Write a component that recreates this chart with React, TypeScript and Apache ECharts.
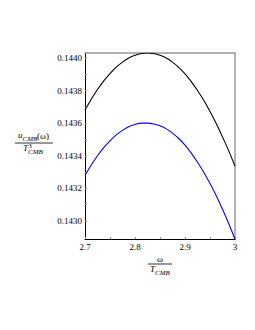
import React, { useEffect, useRef } from "react";
import * as echarts from "echarts";

const omega = [
  2.7, 2.7125, 2.725, 2.7375, 2.75, 2.7625, 2.775, 2.7875, 2.8, 2.8125, 2.825, 2.8375, 2.85,
  2.8625, 2.875, 2.8875, 2.9, 2.9125, 2.925, 2.9375, 2.95, 2.9625, 2.975, 2.9875, 3.0,
];
const blackValues = [
  0.14368, 0.143747, 0.143806, 0.143859, 0.143904, 0.143943, 0.143974, 0.143999, 0.144016,
  0.144027, 0.14403, 0.144027, 0.144016, 0.143999, 0.143974, 0.143942, 0.143902, 0.143855,
  0.1438, 0.14374, 0.143672, 0.143598, 0.143516, 0.14343, 0.143337,
];
const blueValues = [
  0.14328, 0.143344, 0.1434, 0.14345, 0.143492, 0.143528, 0.143556, 0.143578, 0.143592,
  0.1436, 0.1436, 0.143595, 0.143584, 0.143565, 0.143539, 0.143506, 0.143465, 0.143416,
  0.14336, 0.143299, 0.14323, 0.143155, 0.143072, 0.142984, 0.14289,
];
const xTickLabels = [2.7, 2.8, 2.9, 3.0];
const xTicks = [2.7, 2.75, 2.8, 2.85, 2.9, 2.95, 3.0];
const yTickLabels = [0.143, 0.1432, 0.1434, 0.1436, 0.1438, 0.144];
const yTicks = [0.143, 0.1431, 0.1432, 0.1433, 0.1434, 0.1435, 0.1436, 0.1437, 0.1438, 0.1439, 0.144];

const SERIF = "Liberation Serif";

export default function App() {
  const ref = useRef<HTMLDivElement>(null);
  useEffect(() => {
    if (!ref.current) return;
    const chart = echarts.init(ref.current, null, { renderer: "svg" });
    const txt = (text: string, x: number, y: number, size: number, italic: boolean, align = "left") => ({
      type: "text",
      x,
      y,
      style: {
        text,
        fill: "#000",
        fontFamily: SERIF,
        fontSize: size,
        fontStyle: italic ? "italic" : "normal",
        textAlign: align,
        textVerticalAlign: "middle",
      },
    });
    chart.setOption({
      animation: false,
      backgroundColor: "#fff",
      grid: { left: 85, top: 53, width: 150, height: 186, containLabel: false, outerBoundsMode: "none" },
      xAxis: [
        {
          type: "value",
          min: 2.7,
          max: 3.0,
          axisLine: { show: true, lineStyle: { color: "#000", width: 1 } },
          axisTick: { show: true, inside: true, length: 2, customValues: xTicks, lineStyle: { color: "#999" } },
          axisLabel: {
            customValues: xTickLabels,
            formatter: (v: number) => String(Math.round(v * 10) / 10),
            fontFamily: SERIF,
            fontSize: 9,
            color: "#000",
            margin: 3,
          },
          splitLine: { show: false },
        },
        {
          type: "value",
          position: "top",
          min: 2.7,
          max: 3.0,
          axisLine: { show: true, lineStyle: { color: "#999", width: 1.5 } },
          axisTick: { show: false },
          axisLabel: { show: false },
          splitLine: { show: false },
        },
      ],
      yAxis: [
        {
          type: "value",
          min: 0.14289,
          max: 0.14403,
          axisLine: { show: true, lineStyle: { color: "#000", width: 1 } },
          axisTick: { show: true, inside: true, length: 2, customValues: yTicks, lineStyle: { color: "#999" } },
          axisLabel: {
            customValues: yTickLabels,
            formatter: (v: number) => v.toFixed(4),
            fontFamily: SERIF,
            fontSize: 9,
            color: "#000",
            margin: 3,
          },
          splitLine: { show: false },
        },
        {
          type: "value",
          position: "right",
          min: 0.14289,
          max: 0.14403,
          axisLine: { show: true, lineStyle: { color: "#999", width: 1.5 } },
          axisTick: { show: false },
          axisLabel: { show: false },
          splitLine: { show: false },
        },
      ],
      series: [
        {
          type: "line",
          data: omega.map((x, i) => [x, blackValues[i]]),
          smooth: 0.3,
          showSymbol: false,
          lineStyle: { color: "#000", width: 1.1 },
        },
        {
          type: "line",
          data: omega.map((x, i) => [x, blueValues[i]]),
          smooth: 0.3,
          showSymbol: false,
          lineStyle: { color: "#0000ff", width: 1.1 },
        },
      ],
      graphic: [
        // y-axis title: u_CMB(ω) / T^3_CMB
        txt("u", 18, 134.5, 9, true),
        txt("CMB", 22.5, 139, 7, true),
        txt("(ω)", 37, 136, 9, false),
        { type: "line", shape: { x1: 15, y1: 143, x2: 53, y2: 143 }, style: { stroke: "#000", lineWidth: 0.8 } },
        txt("T", 23, 148, 9, true),
        txt("3", 28.5, 145, 6.5, false),
        txt("CMB", 28, 151.5, 7, true),
        // x-axis title: ω / T_CMB
        txt("ω", 160, 258.5, 9, false, "center"),
        { type: "line", shape: { x1: 148, y1: 264, x2: 172, y2: 264 }, style: { stroke: "#000", lineWidth: 0.8 } },
        txt("T", 150, 269, 9, true),
        txt("CMB", 155, 272.5, 7, true),
      ],
    });
    return () => chart.dispose();
  }, []);
  return <div ref={ref} style={{ position: "fixed", left: 0, top: 0, width: 255, height: 330 }} />;
}
